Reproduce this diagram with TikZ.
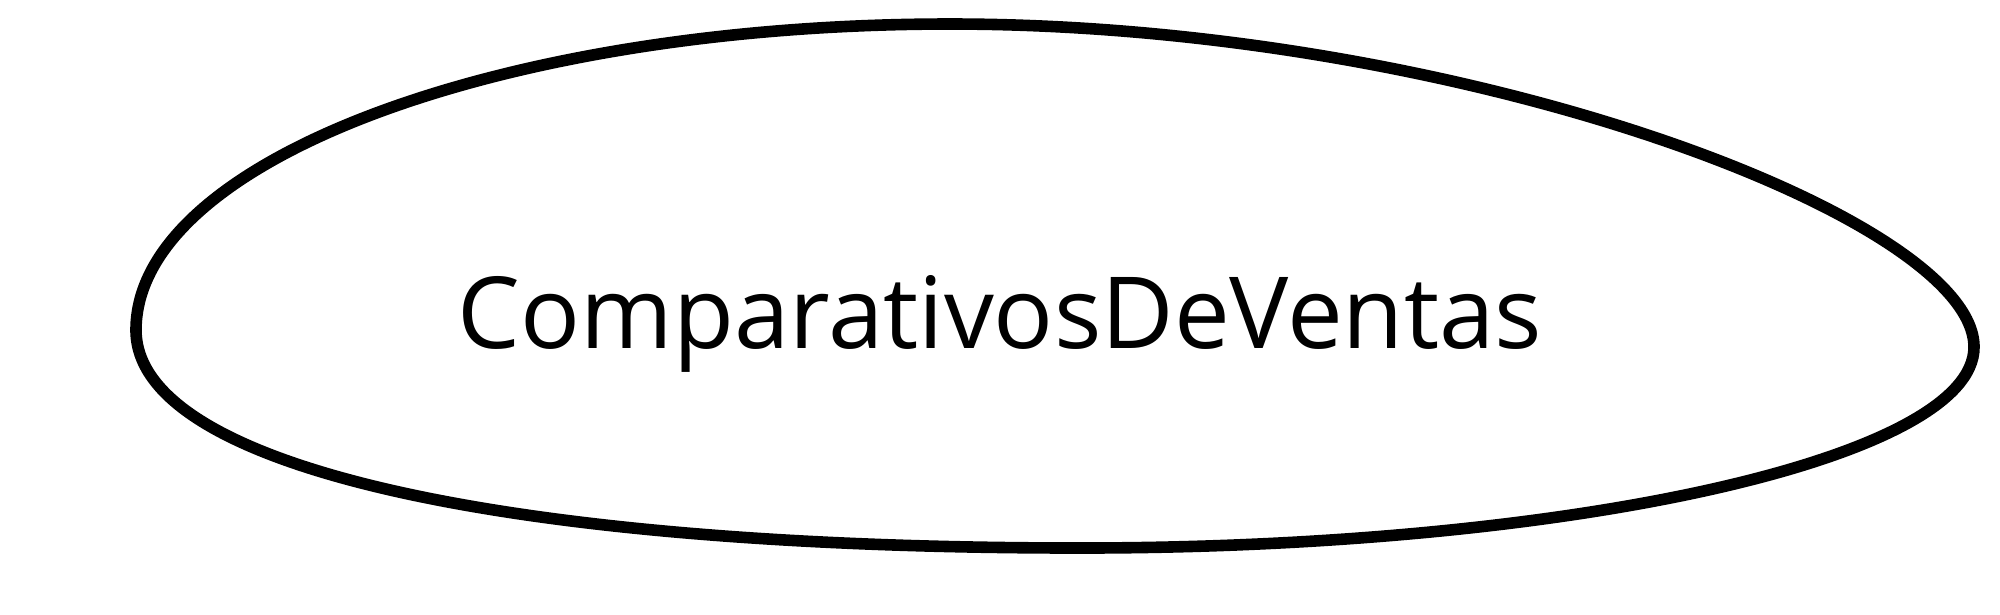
\documentclass[tikz,border=0pt]{standalone}
\usepackage{fontspec}
\setmainfont{Open Sans}
\usepackage{xcolor}
\definecolor{cLine}{HTML}{000000}
\usetikzlibrary{positioning}
\tikzset{
  node-name/.style={font=\fontsize{28.3pt}{34pt}\selectfont,
    inner sep=0pt,anchor=base},
  node-outline/.style={draw=cLine,line width=3.3pt},
}

\begin{document}
\begin{tikzpicture}[x=0.01cm,y=-0.01cm]
  \useasboundingbox (0,0) rectangle (2000,614);
  \node[node-name] (ventas) at (1000,348) {ComparativosDeVentas};
  % extremos del contorno
  \coordinate (west) at (136,330);
  \coordinate (north) at (950,24);
  \coordinate (east) at (1974,347);
  \coordinate (south) at (1080,548);
  \draw[node-outline] (west)
    .. controls (136,161) and (501,24) .. (north)
    .. controls (1462,24) and (1974,218) .. (east)
    .. controls (1974,458) and (1574,548) .. (south)
    .. controls (495,548) and (136,465) .. (west) -- cycle;
\end{tikzpicture}
\end{document}
